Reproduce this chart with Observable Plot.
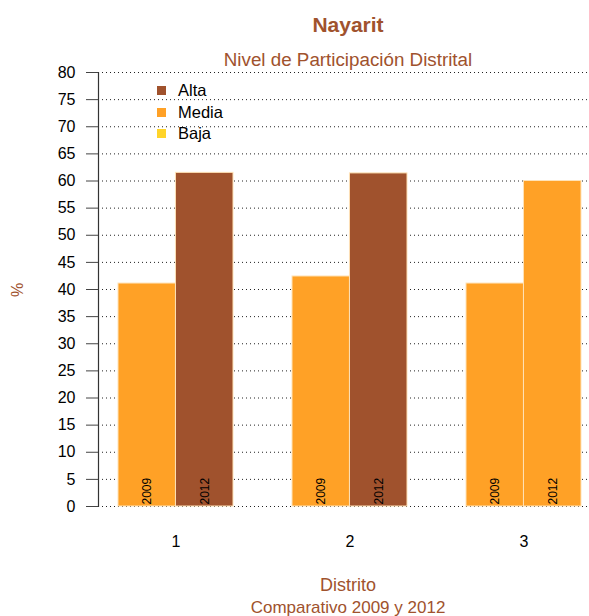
<!DOCTYPE html>
<html><head><meta charset="utf-8">
<script src="https://cdn.jsdelivr.net/npm/d3@7"></script>
<script src="https://cdn.jsdelivr.net/npm/@observablehq/plot@0.6"></script>
<style>
body{margin:0;background:#fff;font-family:"Liberation Sans",Arial,sans-serif;}
#wrap{position:relative;width:589px;height:616px;overflow:hidden;}
.c{position:absolute;left:98px;width:500px;text-align:center;color:#A0522D;white-space:nowrap;}
#ylab{position:absolute;left:18px;top:290px;transform:translate(-50%,-50%) rotate(-90deg);color:#A0522D;font-size:16px;}
.leg{position:absolute;left:157px;height:20px;line-height:20px;font-size:16.5px;color:#000;}
.leg span{display:inline-block;width:9px;height:9px;margin-right:12px;vertical-align:1px;}
</style></head>
<body><div id="wrap"></div>
<script>
const districts = [1, 2, 3];
const years = [2009, 2012];
const values2009 = [41.1, 42.4, 41.1];
const values2012 = [61.5, 61.4, 60.0];
const levels2009 = ["Media", "Media", "Media"];
const levels2012 = ["Alta", "Alta", "Media"];
const levelNames = ["Alta", "Media", "Baja"];
const levelColors = ["#A0522D", "#FFA126", "#FFD42A"];
const yTicks = [0,5,10,15,20,25,30,35,40,45,50,55,60,65,70,75,80];
const title = "Nayarit";
const subtitle = "Nivel de Participación Distrital";
const xTitle = "Distrito";
const caption = "Comparativo 2009 y 2012";
const yTitle = "%";

const rows = districts.flatMap((d, i) => [
  {district: d, year: years[0], value: values2009[i], level: levels2009[i]},
  {district: d, year: years[1], value: values2012[i], level: levels2012[i]}
]);
const r2009 = rows.filter(d => d.year === 2009);
const r2012 = rows.filter(d => d.year === 2012);

const xr = [117.5, 580.5], pin = 0.34;
const bw = (xr[1] - xr[0]) / (districts.length - pin) * (1 - pin);
const font = '"Liberation Sans", Arial, sans-serif';

const plot = Plot.plot({
  width: 589, height: 616,
  marginTop: 72, marginBottom: 110, marginLeft: 98, marginRight: 2,
  style: {fontFamily: font, fontSize: "16px", color: "#000", background: "transparent"},
  x: {type: "band", domain: districts, range: xr, paddingInner: pin, paddingOuter: 0},
  y: {domain: [0, 80]},
  color: {domain: levelNames, range: levelColors},
  marks: [
    Plot.ruleY(yTicks, {stroke: "#222", strokeDasharray: "1,3", strokeWidth: 1}),
    Plot.barY(r2009, {x: "district", y: "value", fill: "level", stroke: "#FFE3B8", strokeWidth: 1, insetRight: bw / 2}),
    Plot.barY(r2012, {x: "district", y: "value", fill: "level", stroke: "#FFE3B8", strokeWidth: 1, insetLeft: bw / 2}),
    Plot.text(r2009, {x: "district", y: 0, text: d => String(d.year), rotate: -90, textAnchor: "start", dx: -bw / 4, dy: -2, fontSize: 12, fill: "#000"}),
    Plot.text(r2012, {x: "district", y: 0, text: d => String(d.year), rotate: -90, textAnchor: "start", dx: bw / 4, dy: -2, fontSize: 12, fill: "#000"}),
    Plot.frame({anchor: "left", stroke: "#333", strokeWidth: 1.2}),
    Plot.axisY({ticks: yTicks, tickSize: 12, tickPadding: 11, stroke: "#444", fill: "#000", fontSize: 16, label: null}),
    Plot.axisX({tickSize: 0, tickPadding: 29, fill: "#000", fontSize: 16, label: null})
  ]
});

const wrap = document.getElementById("wrap");
wrap.appendChild(plot);

function addDiv(cls, text, css) {
  const el = document.createElement("div");
  if (cls) el.className = cls;
  el.textContent = text;
  Object.assign(el.style, css || {});
  if (!cls) el.id = "ylab";
  wrap.appendChild(el);
  return el;
}
addDiv("c", title, {top: "13px", fontSize: "21px", fontWeight: "bold", lineHeight: "24px"});
addDiv("c", subtitle, {top: "49px", fontSize: "18.8px", lineHeight: "22px"});
addDiv("c", xTitle, {top: "575px", fontSize: "18px", lineHeight: "20px"});
addDiv("c", caption, {top: "598px", fontSize: "17px", lineHeight: "20px"});
addDiv(null, yTitle);

levelNames.forEach((name, i) => {
  const el = document.createElement("div");
  el.className = "leg";
  el.style.top = (80 + i * 21.5) + "px";
  const sw = document.createElement("span");
  sw.style.background = levelColors[i];
  el.appendChild(sw);
  el.appendChild(document.createTextNode(name));
  wrap.appendChild(el);
});
</script></body></html>
